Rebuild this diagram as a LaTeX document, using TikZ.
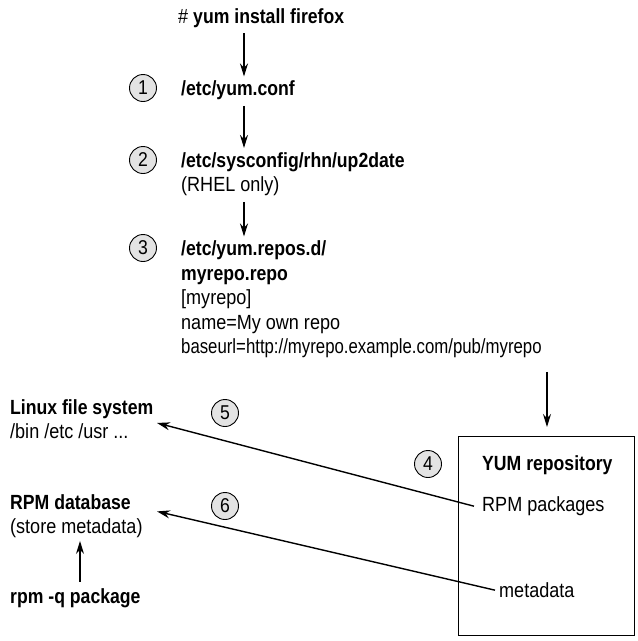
\documentclass[tikz,border=0pt]{standalone}
\usepackage{fontspec}
\setmainfont{Liberation Sans}[FakeStretch=0.88, BoldFeatures={FakeStretch=0.86}]
\usetikzlibrary{arrows.meta}
\tikzset{
  txt/.style={anchor=base west, inner sep=0pt, font=\fontsize{20.5}{24.5}\selectfont},
  btxt/.style={txt, font=\fontsize{20.5}{24.5}\selectfont\bfseries},
  num/.style={circle, draw, line width=0.9pt, fill=black!11, minimum size=27pt, inner sep=0pt, font=\fontsize{20}{20}\selectfont},
  arr/.style={line width=1.4pt, -{Stealth[length=13pt,width=8pt]}},
  box/.style={draw, line width=1pt}
}
\begin{document}
\begin{tikzpicture}[x=1pt,y=-1pt]
\useasboundingbox (0,0) rectangle (638,641);
% top command
\node[txt] (cmd) at (178,23) {\# \textbf{yum install firefox}};
% step 1
\node[num] (n1) at (143,88) {1};
\node[btxt] (conf) at (181,95.5) {/etc/yum.conf};
% step 2
\node[num] (n2) at (143,160) {2};
\node[btxt] (up) at (181,167) {/etc/sysconfig/rhn/up2date};
\node[txt] (rhel) at (181,191.5) {(RHEL only)};
% step 3
\node[num] (n3) at (143,248) {3};
\node[btxt] (rd) at (181,255.5) {/etc/yum.repos.d/};
\node[btxt] (mr) at (181,280) {myrepo.repo};
\node[txt] (sec) at (181,304.5) {[myrepo]};
\node[txt] (nm) at (181,329) {name=My own repo};
\node[txt] (bu) at (181,353.5) {\scalebox{0.93}[1]{baseurl=http://myrepo.example.com/pub/myrepo}};
% repository
\node[box, minimum width=176pt, minimum height=199pt, anchor=north west] (repo) at (458,436) {};
\node[num] (n4) at (428,464) {4};
\node[btxt] (yum) at (482,470.5) {YUM repository};
\node[txt] (pk) at (482,511.5) {RPM packages};
\node[txt] (md) at (499,597.5) {metadata};
% left side
\node[btxt] (lfs) at (10,414.5) {Linux file system};
\node[txt] (dirs) at (10,438.5) {/bin /etc /usr ...};
\node[num] (n5) at (225,413) {5};
\node[btxt] (db) at (10,509) {RPM database};
\node[txt] (st) at (10,533.5) {(store metadata)};
\node[num] (n6) at (225,506) {6};
\node[btxt] (q) at (10,603) {rpm -q package};
% coordinates for arrows
\coordinate (c1) at (244,0);
\coordinate (c4) at (547,0);
\coordinate (c7) at (80,0);
\coordinate (tipx) at (157,0);
% arrows
\draw[arr] ([yshift=-6pt]cmd.south -| c1) -- ([yshift=4pt]conf.north -| c1);
\draw[arr] ([yshift=-6pt]conf.south -| c1) -- ([yshift=4pt]up.north -| c1);
\draw[arr] ([yshift=-6pt]rhel.south -| c1) -- ([yshift=4pt]rd.north -| c1);
\draw[arr] ([yshift=-14pt]bu.south -| c4) -- ([yshift=9pt]repo.north -| c4);
\draw[arr] ([xshift=-8pt]pk.west) -- ([yshift=-4pt]lfs.south -| tipx);
\draw[arr] ([xshift=-4pt]md.west) -- ([yshift=-2pt]db.south -| tipx);
\draw[arr] ([yshift=6pt]q.north -| c7) -- ([yshift=-3pt]st.south -| c7);
\end{tikzpicture}
\end{document}
